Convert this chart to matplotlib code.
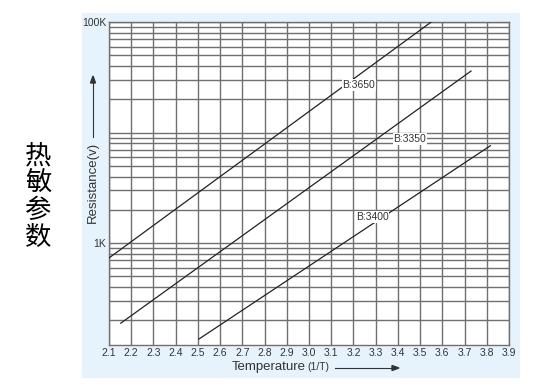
import matplotlib.pyplot as plt
from matplotlib.patches import Rectangle
import numpy as np

plt.rcParams['font.family'] = ['Liberation Sans', 'DejaVu Sans']

# curve end points (1/T, resistance)
b_names = ['B:3650', 'B:3350', 'B:3400']
x_start = [2.10, 2.153, 2.505]
x_end = [3.55, 3.729, 3.816]
r_start = [735, 189, 136]
r_end = [100000, 36000, 7600]
label_x = [3.15, 3.38, 3.21]
label_r = [26900, 8750, 1730]

x_ticks = [2.1, 2.2, 2.3, 2.4, 2.5, 2.6, 2.7, 2.8, 2.9, 3.0,
           3.1, 3.2, 3.3, 3.4, 3.5, 3.6, 3.7, 3.8, 3.9]
y_labels = {1000: '1K', 100000: '100K'}

fig = plt.figure(figsize=(5.43, 3.90), dpi=100)
fig.patches.append(Rectangle((82 / 543, 12 / 390), 438 / 543, 365 / 390,
                             transform=fig.transFigure, facecolor='#e6f3fc',
                             edgecolor='none', zorder=-5))
ax = fig.add_axes([109 / 543, 45 / 390, 400 / 543, 323 / 390])
ax.set_facecolor('white')
ax.set_yscale('log')
ax.set_xlim(2.1, 3.9)
ax.set_ylim(120, 100000)

ax.set_xticks(x_ticks)
ax.set_xticklabels(['%.1f' % v for v in x_ticks])
ax.set_yticks(list(y_labels.keys()))
ax.set_yticklabels(list(y_labels.values()))
minor = [m * 10 ** k for k in range(2, 5) for m in range(1, 10)
         if 120 <= m * 10 ** k <= 100000 and m * 10 ** k not in y_labels]
ax.set_yticks(minor, minor=True)
ax.yaxis.set_minor_formatter(plt.NullFormatter())
ax.tick_params(which='both', length=0, labelsize=7.5, colors='#333333')
ax.tick_params(axis='x', pad=2)
ax.tick_params(axis='y', pad=2)
ax.grid(True, which='both', color='#707070', lw=1.0)
for s in ax.spines.values():
    s.set_color('#707070')
    s.set_linewidth(1.0)

for i in range(len(b_names)):
    ax.plot([x_start[i], x_end[i]], [r_start[i], r_end[i]], color='#222222', lw=0.9, zorder=3)
    ax.text(label_x[i], label_r[i], b_names[i], fontsize=7.5, color='#333333',
            ha='left', va='center', zorder=4,
            bbox=dict(facecolor='white', edgecolor='none', pad=0.5))

# axis titles with arrows
fig.text(93 / 543, 1 - 182 / 390, 'Resistance(v)', rotation=90, fontsize=9.5,
         color='#333333', ha='center', va='center')
fig.add_artist(plt.Line2D([93 / 543, 93 / 543], [1 - 137 / 390, 1 - 82 / 390],
                          color='#333333', lw=0.8))
fig.add_artist(plt.Polygon([[90.5 / 543, 1 - 83 / 390], [95.5 / 543, 1 - 83 / 390],
                            [93 / 543, 1 - 76 / 390]], closed=True,
                           transform=fig.transFigure, color='#333333'))
fig.text(232 / 543, 1 - 367 / 390, 'Temperature', fontsize=9.5, color='#333333',
         ha='left', va='center')
fig.text(307 / 543, 1 - 367 / 390, '(1/T)', fontsize=7.5, color='#333333',
         ha='left', va='center')
fig.add_artist(plt.Line2D([335 / 543, 393 / 543], [1 - 368 / 390, 1 - 368 / 390],
                          color='#333333', lw=0.8))
fig.add_artist(plt.Polygon([[392 / 543, 1 - 365.5 / 390], [392 / 543, 1 - 370.5 / 390],
                            [399 / 543, 1 - 368 / 390]], closed=True,
                           transform=fig.transFigure, color='#333333'))

fig.text(38 / 543, 1 - 197 / 390, '热\n敏\n参\n数', fontsize=19,
         family=['Noto Sans CJK SC', 'DejaVu Sans'], ha='center', va='center',
         linespacing=1.0, color='black')

fig.savefig('out.png', dpi=100)
